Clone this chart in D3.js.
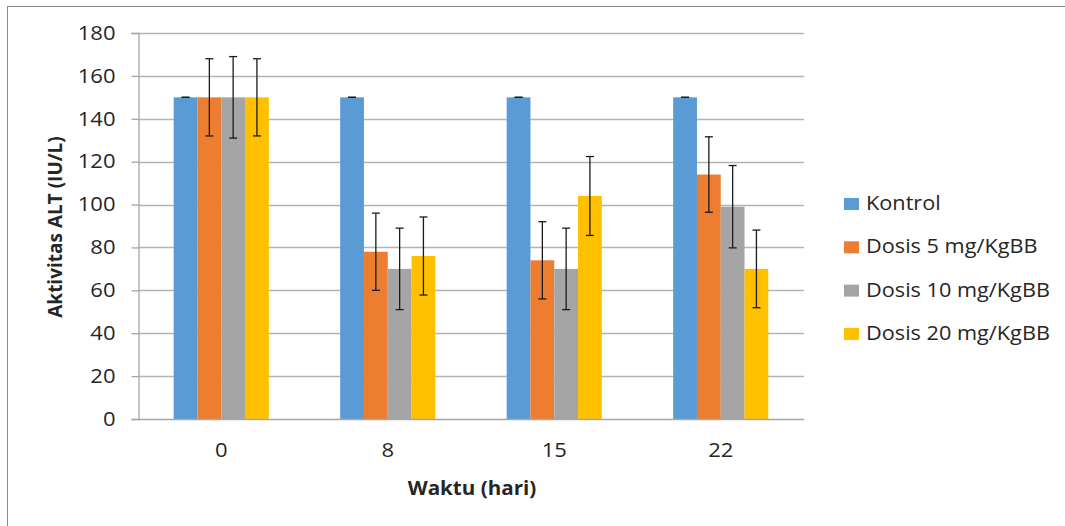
<!DOCTYPE html>
<html>
<head>
<meta charset="utf-8">
<script src="https://cdn.jsdelivr.net/npm/d3@7"></script>
<style>
html,body{margin:0;padding:0;background:#fff;}
svg{display:block;}
text{font-family:"Open Sans",sans-serif;fill:#262626;}
</style>
</head>
<body>
<svg id="chart" width="1065" height="526"></svg>
<script>
// ---- data ----
const categories = ["0", "8", "15", "22"];
const seriesNames = ["Kontrol", "Dosis 5 mg/KgBB", "Dosis 10 mg/KgBB", "Dosis 20 mg/KgBB"];
const kontrol = [150, 150, 150, 150];
const dosis5 = [150, 78, 74, 114];
const dosis10 = [150, 70, 70, 99];
const dosis20 = [150, 76, 104, 70];
const errKontrol = [0, 0, 0, 0];
const errDosis5 = [18, 18, 18, 17.6];
const errDosis10 = [19, 19, 19, 19.2];
const errDosis20 = [18, 18.2, 18.4, 18.1];
const yTicks = [0, 20, 40, 60, 80, 100, 120, 140, 160, 180];
const colors = ["#5B9BD5", "#ED7D31", "#A5A5A5", "#FFC000"];

const values = [kontrol, dosis5, dosis10, dosis20];
const errors = [errKontrol, errDosis5, errDosis10, errDosis20];

(function () {
const svg = d3.select("#chart");
const SX = 1.13; // horizontal stretch of the reference's text

// outer border
svg.append("rect").attr("x", 7.5).attr("y", 6.5).attr("width", 1070).attr("height", 530)
  .attr("fill", "none").attr("stroke", "#8c8c8c").attr("stroke-width", 1);

const pLeft = 138, pRight = 804, pTop = 33, pBottom = 419;
const x0 = d3.scaleBand().domain(categories).range([pLeft, pRight]).padding(0);
const bw = x0.bandwidth() / 7;
const x1 = d3.scaleBand().domain(seriesNames).range([0, 4 * bw]).padding(0);
const y = d3.scaleLinear().domain([0, 180]).range([pBottom, pTop]);

// gridlines
svg.append("g").selectAll("line").data(yTicks.filter(d => d > 0)).join("line")
  .attr("x1", pLeft).attr("x2", pRight)
  .attr("y1", d => Math.round(y(d)) + 0.5).attr("y2", d => Math.round(y(d)) + 0.5)
  .attr("stroke", "#b4b4b4").attr("stroke-width", 1.3);

// y axis
const yAxis = svg.append("g").attr("transform", `translate(${pLeft + 0.5},0)`)
  .call(d3.axisLeft(y).tickValues(yTicks).tickSize(7).tickPadding(22).tickFormat(d3.format("d")));
yAxis.select(".domain").attr("stroke", "#a6a6a6").attr("stroke-width", 1.3);
yAxis.selectAll(".tick line").attr("stroke", "#a6a6a6").attr("stroke-width", 1.3);
yAxis.selectAll(".tick text").style("font-size", "19.5px").attr("fill", "#262626")
  .style("font-family", "'Open Sans',sans-serif")
  .attr("x", 0).attr("transform", `translate(-23,0) scale(${SX},1)`);

// bars
const groups = svg.append("g").selectAll("g").data(categories).join("g")
  .attr("transform", d => `translate(${x0(d) + 1.5 * bw},0)`);

groups.selectAll("rect").data((c, i) => seriesNames.map((s, k) => ({s, k, v: values[k][i], e: errors[k][i]})))
  .join("rect")
  .attr("x", d => x1(d.s)).attr("width", x1.bandwidth())
  .attr("y", d => y(d.v)).attr("height", d => y(0) - y(d.v))
  .attr("fill", d => colors[d.k]);

// x axis line
svg.append("line").attr("x1", pLeft).attr("x2", pRight)
  .attr("y1", pBottom + 0.5).attr("y2", pBottom + 0.5)
  .attr("stroke", "#a6a6a6").attr("stroke-width", 1.3);

// error bars
const cap = 4;
groups.each(function(c, i) {
  const g = d3.select(this);
  seriesNames.forEach((s, k) => {
    const cx = x1(s) + x1.bandwidth() / 2;
    const v = values[k][i], e = errors[k][i];
    const eb = g.append("g").attr("stroke", "#1a1a1a").attr("stroke-width", 1.3);
    eb.append("line").attr("x1", cx).attr("x2", cx).attr("y1", y(v + e)).attr("y2", y(v - e));
    eb.append("line").attr("x1", cx - cap).attr("x2", cx + cap).attr("y1", y(v + e)).attr("y2", y(v + e));
    eb.append("line").attr("x1", cx - cap).attr("x2", cx + cap).attr("y1", y(v - e)).attr("y2", y(v - e));
  });
});

// x labels
svg.append("g").selectAll("text").data(categories).join("text")
  .attr("transform", d => `translate(${x0(d) + x0.bandwidth() / 2},457) scale(${SX},1)`)
  .attr("text-anchor", "middle").style("font-size", "19.5px").text(d => d);

// axis titles
svg.append("text").attr("transform", `translate(472,495) scale(1.03,1)`).attr("text-anchor", "middle")
  .style("font-size", "20px").style("font-weight", "bold").text("Waktu (hari)");
svg.append("text").attr("transform", "translate(62,227) rotate(-90)").attr("text-anchor", "middle")
  .style("font-size", "19px").style("font-weight", "bold").text("Aktivitas ALT (IU/L)");

// legend
const leg = svg.append("g").selectAll("g").data(seriesNames).join("g")
  .attr("transform", (d, i) => `translate(844,${210 + i * 43.3})`);
leg.append("rect").attr("x", 0).attr("y", -12).attr("width", 15).attr("height", 12)
  .attr("fill", (d, i) => colors[i]);
leg.append("text").attr("transform", `translate(22,0) scale(1.085,1)`)
  .style("font-size", "20px").text(d => d);
})();
</script>
</body>
</html>
